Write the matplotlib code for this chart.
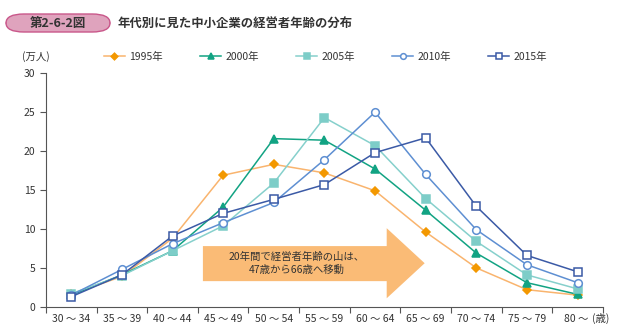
import matplotlib.pyplot as plt
from matplotlib.patches import FancyBboxPatch, Polygon

plt.rcParams['font.family'] = ['Noto Sans CJK JP', 'DejaVu Sans']

# データ（万人）
ages = ['30～34', '35～39', '40～44', '45～49', '50～54', '55～59',
        '60～64', '65～69', '70～74', '75～79', '80～']
y1995 = [1.6, 3.9, 8.8, 16.9, 18.3, 17.2, 14.9, 9.6, 5.0, 2.2, 1.5]
y2000 = [1.5, 4.1, 7.2, 12.8, 21.6, 21.4, 17.7, 12.4, 6.9, 3.1, 1.6]
y2005 = [1.7, 4.0, 7.2, 10.4, 15.9, 24.3, 20.7, 13.9, 8.4, 4.1, 2.3]
y2010 = [1.5, 4.8, 8.1, 10.8, 13.4, 18.9, 25.0, 17.0, 9.9, 5.4, 3.1]
y2015 = [1.3, 4.1, 9.1, 12.0, 13.8, 15.7, 19.8, 21.7, 12.9, 6.6, 4.5]

fig = plt.figure(figsize=(6.38, 3.24), dpi=100)
ax = fig.add_axes([0.072, 0.053, 0.873, 0.721])

x = list(range(len(ages)))
# (label, data, line color, marker, marker face, marker edge, size)
series = [
    ('1995年', y1995, '#F9B46E', 'D', '#F39800', '#F39800', 4.5),
    ('2000年', y2000, '#12A383', '^', '#12A383', '#12A383', 5.5),
    ('2005年', y2005, '#86D0CC', 's', '#7DCDC8', '#7DCDC8', 5.5),
    ('2010年', y2010, '#5E8FD2', 'o', 'white', '#5E8FD2', 5.5),
    ('2015年', y2015, '#3B5AA6', 's', 'white', '#3B5AA6', 5.5),
]
handles = []
for lab, d, lc, m, mf, me, ms in series:
    h, = ax.plot(x, d, color=lc, lw=1.1, marker=m, markersize=ms,
                 markerfacecolor=mf, markeredgecolor=me, markeredgewidth=1.1,
                 label=lab)
    handles.append(h)

ax.set_xlim(-0.5, 10.5)
ax.set_ylim(0, 30)
ax.set_yticks(range(0, 31, 5))
ax.set_xticks([i - 0.5 for i in range(12)])
ax.set_xticklabels([])
ax.set_xticks(x, minor=True)
ax.set_xticklabels([a.replace('～', ' ～ ') for a in ages], minor=True)
ax.tick_params(axis='x', which='major', length=4, color='#555555', width=0.8)
ax.tick_params(axis='x', which='minor', length=0, pad=5, labelsize=7.5, labelcolor='#333333')
ax.tick_params(axis='y', length=4, color='#555555', width=0.8, labelsize=7.5, labelcolor='#333333')
for s in ['top', 'right']:
    ax.spines[s].set_visible(False)
for s in ['left', 'bottom']:
    ax.spines[s].set_color('#555555')
    ax.spines[s].set_linewidth(0.8)

fig.text(592 / 638, 1 - 318 / 324, '(歳)', fontsize=7.5, color='#333333',
         ha='left', va='center')
fig.text(22 / 638, 1 - 57 / 324, '(万人)', fontsize=7.5, color='#333333',
         ha='left', va='center')

# 凡例
fig.legend(handles=handles, loc='center left', bbox_to_anchor=(104 / 638, 1 - 57 / 324),
           ncol=5, frameon=False, fontsize=7.5, handlelength=2.0, markerscale=0.75,
           columnspacing=3.6, handletextpad=0.4, borderpad=0, borderaxespad=0,
           labelcolor='#333333')

# 矢印
arrow_pts = [(2.6, 3.3), (6.23, 3.3), (6.23, 1.1), (6.98, 5.6),
             (6.23, 10.1), (6.23, 7.8), (2.6, 7.8)]
ax.add_patch(Polygon(arrow_pts, closed=True, facecolor='#FABB76',
                     edgecolor='none', zorder=1))
ax.text(4.45, 5.55, '20年間で経営者年齢の山は、\n47歳から66歳へ移動',
        ha='center', va='center', fontsize=7.5, color='#333333',
        linespacing=1.3, zorder=2)

# タイトル
fig.patches.append(FancyBboxPatch((6 / 638, 1 - 32 / 324), 104 / 638, 18 / 324,
                                  boxstyle='round,pad=0,rounding_size=0.028',
                                  transform=fig.transFigure, facecolor='#DFA3BD',
                                  edgecolor='#C9578A', linewidth=1))
fig.text(58 / 638, 1 - 23 / 324, '第2-6-2図', fontsize=9, color='#333333',
         ha='center', va='center', fontweight='bold')
fig.text(118 / 638, 1 - 23 / 324, '年代別に見た中小企業の経営者年齢の分布',
         fontsize=8.9, color='#333333', ha='left', va='center', fontweight='bold')

fig.savefig('out.png', dpi=100)
